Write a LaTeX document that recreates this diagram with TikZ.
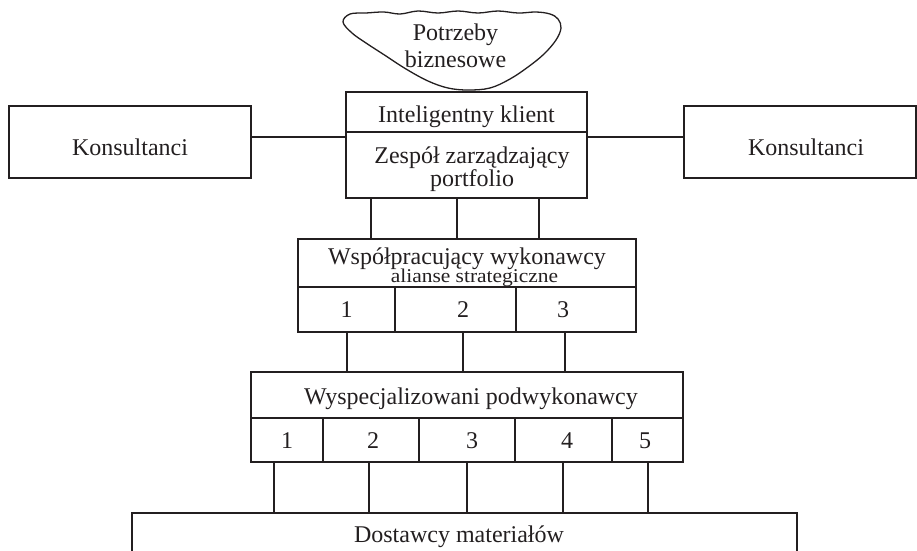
\documentclass[tikz,border=0pt]{standalone}
\usepackage{fontspec}
\setmainfont{Liberation Serif}
\definecolor{ink}{HTML}{231F20}
% two centred lines with a fixed baseline distance; the box baseline is the first line
\newcommand\stackedtext[3]{\vtop{\baselineskip=#3\relax\lineskiplimit=-1000pt\halign{\hfil##\hfil\cr#1\cr#2\cr}}}
\begin{document}
\begin{tikzpicture}[x=1pt,y=-1pt,
  box/.style={draw=ink, line width=1.8pt, inner sep=0pt, text=ink,
    font=\fontsize{24}{24}\selectfont, text depth=0pt},
  link/.style={draw=ink, line width=1.8pt},
  cloudline/.style={draw=ink, line width=1.3pt}]
\useasboundingbox (0,0) rectangle (917,550);
\clip (0,0) rectangle (917,550);

% business needs cloud
\draw[cloudline] plot[smooth cycle, tension=0.6] coordinates {
  (343,22) (350,14) (366,13) (384,12) (400,14) (418,11) (438,13) (458,11)
  (478,13) (498,11) (518,13) (536,12) (550,14) (558,19) (561,28) (556,40)
  (544,54) (528,67) (510,79) (490,88) (468,90) (448,88) (428,81) (406,69)
  (386,56) (366,43) (352,33)};
\node[inner sep=0pt, text=ink, font=\fontsize{24}{24}\selectfont, anchor=base]
  (need) at (455.5,40) {\stackedtext{Potrzeby}{biznesowe}{27pt}};

% client and portfolio team
\node[box, minimum width=241, minimum height=40, text height=20pt] (klient) at (466.5,112) {Inteligentny klient};
\node[box, minimum width=241, minimum height=66, text height=0pt, text depth=4pt] (zesp) at (466.5,165)
  {\hspace*{11pt}\stackedtext{Zespół zarządzający}{portfolio}{23pt}};

% consultants
\node[box, minimum width=242, minimum height=72, text height=26pt] (konsL) at (130,142) {Konsultanci};
\node[box, minimum width=232, minimum height=72, text height=26pt] (konsR) at (800,142) {\hspace*{12pt}Konsultanci};

% cooperating contractors
\node[box, minimum width=338, minimum height=48, text height=2pt] (wsp) at (467,263)
  {\stackedtext{Współpracujący wykonawcy}{\hspace*{15pt}\fontsize{19.5}{19.5}\selectfont\addfontfeature{FakeStretch=1.1}alianse strategiczne}{18.5pt}};
\node[box, minimum width=97, minimum height=45, text height=15pt] (wc1) at (346.5,309.5) {1};
\node[box, minimum width=121, minimum height=45, text height=15pt] (wc2) at (455.5,309.5) {\hspace*{15pt}2};
\node[box, minimum width=120, minimum height=45, text height=15pt] (wc3) at (576,309.5) {3\hspace*{26pt}};

% specialised subcontractors
\node[box, minimum width=432, minimum height=46, text height=18pt] (wys) at (467,395)
  {\hspace*{8pt}Wyspecjalizowani podwykonawcy};
\node[box, minimum width=72, minimum height=44, text height=16pt] (wy1) at (287,440) {1};
\node[box, minimum width=96, minimum height=44, text height=16pt] (wy2) at (371,440) {\hspace*{4pt}2};
\node[box, minimum width=96, minimum height=44, text height=16pt] (wy3) at (467,440) {\hspace*{10pt}3};
\node[box, minimum width=97, minimum height=44, text height=16pt] (wy4) at (563.5,440) {\hspace*{7pt}4};
\node[box, minimum width=71, minimum height=44, text height=16pt] (wy5) at (647.5,440) {5\hspace*{5pt}};

% material suppliers
\node[box, minimum width=665, minimum height=67, text height=0pt, text depth=9pt] (dost) at (464.5,546.5)
  {Dostawcy materiałów\hspace*{11pt}};

% connectors
\draw[link] ([yshift=5pt]konsL.east) -- ([yshift=5pt]konsL.east -| zesp.west);
\draw[link] ([yshift=5pt]konsR.west) -- ([yshift=5pt]konsR.west -| zesp.east);
\foreach \x in {371,457,539} \draw[link] (zesp.south -| \x,0) -- (wsp.north -| \x,0);
\foreach \x in {347,463,565} \draw[link] (wc1.south -| \x,0) -- (wys.north -| \x,0);
\foreach \x in {274,369,467,563,648} \draw[link] (wy1.south -| \x,0) -- (dost.north -| \x,0);
\end{tikzpicture}
\end{document}
